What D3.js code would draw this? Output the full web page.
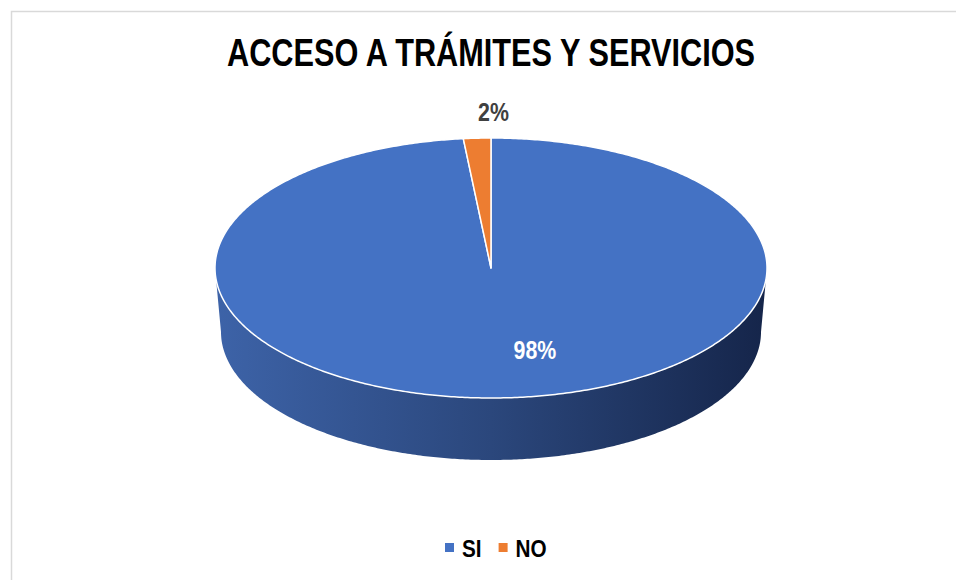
<!DOCTYPE html>
<html>
<head>
<meta charset="utf-8">
<script src="https://cdn.jsdelivr.net/npm/d3@7"></script>
<style>
  body { margin: 0; background: #fff; }
  text { font-family: "Liberation Sans Narrow", "Arial Narrow", "Liberation Sans", Arial, sans-serif; font-weight: bold; }
</style>
</head>
<body>
<svg id="chart" width="956" height="580"></svg>
<script>
var title = "ACCESO A TRÁMITES Y SERVICIOS";
var categories = ["SI", "NO"];
var values = [98.4, 1.6];
var labels = ["98%", "2%"];
var colors = ["#4472c4", "#ed7d31"];

var width = 956, height = 580;
var cx = 491, cy = 268, rx = 276, ry = 130;
var depth = 64, rxb = 270, ryb = 128;
var cyb = cy + depth;

var svg = d3.select("#chart");

// squeeze wide fallback font to look like a narrow face
function condense(sel, k) {
  var w = sel.node().getComputedTextLength();
  sel.attr("textLength", w * k).attr("lengthAdjust", "spacingAndGlyphs");
  return sel;
}

// frame
svg.append("rect")
    .attr("x", 11.5).attr("y", 11.5)
    .attr("width", width).attr("height", height)
    .attr("fill", "none")
    .attr("stroke", "#d9d9d9")
    .attr("stroke-width", 1.5);

svg.append("text")
    .attr("x", cx).attr("y", 66)
    .attr("text-anchor", "middle")
    .attr("font-size", 38)
    .attr("textLength", 528)
    .attr("lengthAdjust", "spacingAndGlyphs")
    .attr("fill", "#000")
    .text(title);

var defs = svg.append("defs");
var grad = defs.append("linearGradient")
    .attr("id", "side")
    .attr("gradientUnits", "userSpaceOnUse")
    .attr("x1", cx - rx).attr("x2", cx + rx)
    .attr("y1", 0).attr("y2", 0);
grad.append("stop").attr("offset", "0%").attr("stop-color", "#3d63a8");
grad.append("stop").attr("offset", "50%").attr("stop-color", "#2b477c");
grad.append("stop").attr("offset", "100%").attr("stop-color", "#15254a");

var pie = d3.pie().sort(null).value(function(d) { return d; });
var arcs = pie(values);

function topPt(a) { return [cx + rx * Math.sin(a), cy - ry * Math.cos(a)]; }
function botPt(a) { return [cx + rxb * Math.sin(a), cyb - ryb * Math.cos(a)]; }

function sample(a0, a1, f) {
  var n = Math.max(2, Math.ceil(Math.abs(a1 - a0) / 0.01));
  var pts = [];
  for (var i = 0; i <= n; i++) pts.push(f(a0 + (a1 - a0) * i / n));
  return pts;
}

// side walls (front half only)
var line = d3.line();
arcs.forEach(function(d, i) {
  var s = Math.max(d.startAngle, Math.PI / 2);
  var e = Math.min(d.endAngle, 3 * Math.PI / 2);
  if (e <= s) return;
  var pts = sample(s, e, topPt).concat(sample(e, s, botPt));
  svg.append("path")
      .attr("d", line(pts) + "Z")
      .attr("fill", i === 0 ? "url(#side)" : d3.color(colors[i]).darker(1.2));
});

// top faces
arcs.forEach(function(d, i) {
  var pts = [[cx, cy]].concat(sample(d.startAngle, d.endAngle, topPt));
  svg.append("path")
      .attr("d", line(pts) + "Z")
      .attr("fill", colors[i])
      .attr("stroke", "#fff")
      .attr("stroke-width", 1.5)
      .attr("stroke-linejoin", "round");
});

// data labels
arcs.forEach(function(d, i) {
  var mid = (d.startAngle + d.endAngle) / 2;
  var inside = d.value > 10;
  var f = inside ? 0.64 : 1.19;
  var p = [cx + rx * f * Math.sin(mid), cy - ry * f * Math.cos(mid)];
  var t = svg.append("text")
      .attr("x", p[0] + (inside ? 35 : 19))
      .attr("y", p[1] + 8)
      .attr("text-anchor", "middle")
      .attr("font-size", 26)
      .attr("fill", inside ? "#fff" : "#404040")
      .text(labels[i]);
  condense(t, 0.82);
});

// legend
var legend = svg.append("g").attr("transform", "translate(445,557)");
var x = 0;
categories.forEach(function(c, i) {
  var g = legend.append("g").attr("transform", "translate(" + x + ",0)");
  g.append("rect")
      .attr("x", 0).attr("y", -14)
      .attr("width", 9).attr("height", 9)
      .attr("fill", colors[i]);
  var t = g.append("text")
      .attr("x", 17).attr("y", 0)
      .attr("font-size", 23)
      .attr("fill", "#000")
      .text(c);
  condense(t, 0.9);
  x += 17 + t.node().getComputedTextLength() * 0.9 + 19;
});
</script>
</body>
</html>
